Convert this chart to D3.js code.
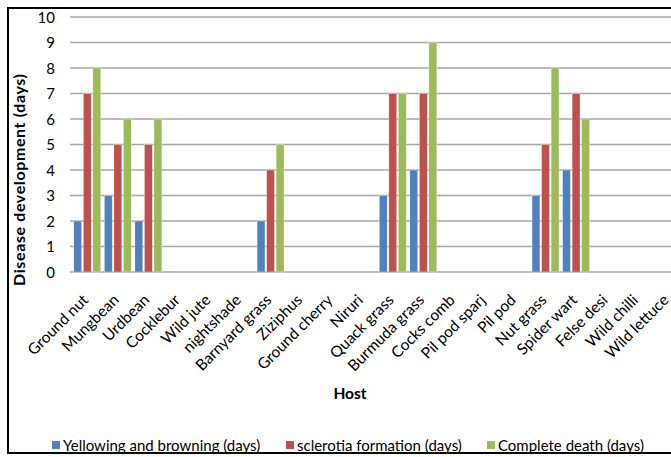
<!DOCTYPE html>
<html>
<head>
<meta charset="utf-8">
<script src="https://cdn.jsdelivr.net/npm/d3@7"></script>
<style>
  html, body { margin: 0; padding: 0; background: #fff; }
  svg { display: block; }
  text { font-family: Lato, "Open Sans", sans-serif; fill: #000; }
</style>
</head>
<body>
<svg id="chart" width="671" height="457"></svg>
<script>
// Host plants tested
const hosts = ["Ground nut", "Mungbean", "Urdbean", "Cocklebur", "Wild jute", "nightshade",
  "Barnyard grass", "Ziziphus", "Ground cherry", "Niruri", "Quack grass", "Burmuda grass",
  "Cocks comb", "Pil pod sparj", "Pil pod", "Nut grass", "Spider wart", "Felse desi",
  "Wild chilli", "Wild lettuce"];

// Days to each symptom stage per host (0 = no symptom)
const yellowing = [2, 3, 2, 0, 0, 0, 2, 0, 0, 0, 3, 4, 0, 0, 0, 3, 4, 0, 0, 0];
const sclerotia = [7, 5, 5, 0, 0, 0, 4, 0, 0, 0, 7, 7, 0, 0, 0, 5, 7, 0, 0, 0];
const death     = [8, 6, 6, 0, 0, 0, 5, 0, 0, 0, 7, 9, 0, 0, 0, 8, 6, 0, 0, 0];

const seriesNames = ["Yellowing and browning (days)", "sclerotia formation (days)", "Complete death (days)"];
const seriesColors = ["#4F81BD", "#C0504D", "#9BBB59"];
const yTicks = [0, 1, 2, 3, 4, 5, 6, 7, 8, 9, 10];

const series = [yellowing, sclerotia, death];

const svg = d3.select("#chart");

// Plot region (the category band runs past the right edge of the frame)
const gridLeft = 70, plotLeft = 72, plotRight = 683, plotTop = 17, plotBottom = 272;

const x = d3.scaleBand().domain(hosts).range([plotLeft, plotRight]).padding(0);
const y = d3.scaleLinear().domain([0, 10]).range([plotBottom, plotTop]);
const inner = d3.scaleBand().domain(d3.range(3)).range([-13.5, 13.5]).paddingInner(0.17);

// Horizontal gridlines
svg.append("g")
  .selectAll("line")
  .data(yTicks)
  .join("line")
  .attr("x1", gridLeft).attr("x2", 671)
  .attr("y1", d => y(d)).attr("y2", d => y(d))
  .attr("stroke", "#A6A6A6")
  .attr("stroke-width", 1.5);

// Y axis tick labels
const yAxis = d3.axisLeft(y).tickValues(yTicks).tickSize(0).tickPadding(0);
const ya = svg.append("g").attr("transform", `translate(55,0)`).call(yAxis);
ya.select(".domain").remove();
ya.selectAll("text")
  .style("font-family", "Lato, 'Open Sans', sans-serif")
  .style("font-size", "15px")
  .attr("fill", "#000")
  .attr("dy", "0.35em");

// Bars
series.forEach((vals, si) => {
  svg.append("g")
    .selectAll("rect")
    .data(vals.map((v, i) => ({ host: hosts[i], v })))
    .join("rect")
    .attr("x", d => x(d.host) + x.bandwidth() / 2 + inner(si))
    .attr("width", inner.bandwidth())
    .attr("y", d => y(d.v))
    .attr("height", d => y(0) - y(d.v))
    .attr("fill", seriesColors[si])
    .attr("stroke", "#fff")
    .attr("stroke-opacity", 0.6)
    .attr("stroke-width", 0.6);
});

// X axis category labels, rotated
const xAxis = d3.axisBottom(x).tickSize(0).tickPadding(0);
const xa = svg.append("g").attr("transform", `translate(0,${plotBottom})`).call(xAxis);
xa.select(".domain").remove();
xa.selectAll("text")
  .style("font-family", "Lato, 'Open Sans', sans-serif")
  .style("font-size", "15.5px")
  .attr("fill", "#000")
  .attr("text-anchor", "end")
  .attr("dy", "0")
  .attr("y", 0)
  .attr("transform", "translate(2,29) rotate(-45)");

// Axis titles
svg.append("text")
  .attr("transform", "translate(25,180) rotate(-90)")
  .attr("text-anchor", "middle")
  .attr("textLength", 212)
  .attr("lengthAdjust", "spacing")
  .style("font-size", "16px")
  .style("font-weight", "bold")
  .text("Disease development (days)");

svg.append("text")
  .attr("x", 350).attr("y", 399)
  .attr("text-anchor", "middle")
  .style("font-size", "15.5px")
  .style("font-weight", "bold")
  .text("Host");

// Legend
const legendX = [52, 286, 487];
const lg = svg.append("g")
  .selectAll("g")
  .data(seriesNames)
  .join("g")
  .attr("transform", (d, i) => `translate(${legendX[i]},0)`);
lg.append("rect")
  .attr("x", 0).attr("y", 441)
  .attr("width", 8).attr("height", 8)
  .attr("fill", (d, i) => seriesColors[i]);
lg.append("text")
  .attr("x", 11).attr("y", 450.5)
  .style("font-size", "15px")
  .text(d => d);

// Outer frame
svg.append("rect")
  .attr("x", 8).attr("y", 8)
  .attr("width", 680).attr("height", 445)
  .attr("fill", "none")
  .attr("stroke", "#000")
  .attr("stroke-width", 2);
</script>
</body>
</html>
